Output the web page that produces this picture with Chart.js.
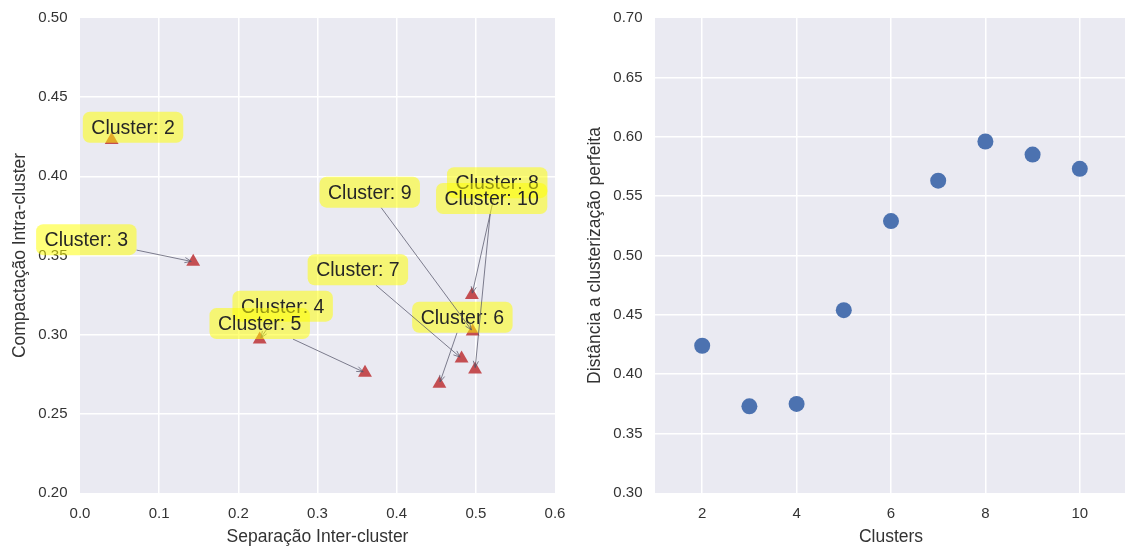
<!DOCTYPE html>
<html>
<head>
<meta charset="utf-8">
<script src="https://cdn.jsdelivr.net/npm/chart.js@4.4.1/dist/chart.umd.min.js"></script>
<style>
  html, body { margin: 0; padding: 0; background: #fff; overflow: hidden; width: 1125px; height: 551px; }
  #left  { position: absolute; left: 0;     top: 0; width: 569px; height: 551px; }
  #right { position: absolute; left: 565px; top: 0; width: 562px; height: 551px; }
</style>
</head>
<body>
<div id="left"><canvas id="compChart"></canvas></div>
<div id="right"><canvas id="distChart"></canvas></div>
<script>
// Number of clusters tried
const clusterIds = [2, 3, 4, 5, 6, 7, 8, 9, 10];

// Left panel: inter-cluster separation vs intra-cluster compactness
const separacao   = [0.040, 0.143, 0.227, 0.360, 0.454, 0.482, 0.495, 0.496, 0.499];
const compactacao = [0.423, 0.346, 0.297, 0.276, 0.269, 0.285, 0.325, 0.302, 0.278];

// Where each "Cluster: n" note sits, in data units (centre of the note)
const notaSep  = [0.067, 0.008, 0.256, 0.227, 0.483, 0.351, 0.527, 0.366, 0.520];
const notaComp = [0.431, 0.360, 0.318, 0.307, 0.311, 0.341, 0.396, 0.390, 0.386];

// Right panel: distance to a perfect clustering
const distPerfeita = [0.424, 0.373, 0.375, 0.454, 0.529, 0.563, 0.596, 0.585, 0.573];

// Tick labels
const sepTicks     = [0.0, 0.1, 0.2, 0.3, 0.4, 0.5, 0.6];
const compTicks    = [0.20, 0.25, 0.30, 0.35, 0.40, 0.45, 0.50];
const clusterTicks = [2, 4, 6, 8, 10];
const distTicks    = [0.30, 0.35, 0.40, 0.45, 0.50, 0.55, 0.60, 0.65, 0.70];

const FONT = '"Liberation Sans", Arial, Helvetica, sans-serif';
const TEXT = '#333333';
Chart.defaults.font.family = FONT;
Chart.defaults.color = TEXT;

// seaborn-style grey plotting area
const plotBg = {
  id: 'plotBg',
  beforeDraw(chart) {
    const { ctx, chartArea: a } = chart;
    ctx.save();
    ctx.fillStyle = '#EAEAF2';
    ctx.fillRect(a.left, a.top, a.right - a.left, a.bottom - a.top);
    ctx.restore();
  }
};

// Yellow annotation boxes with arrows pointing at each cluster marker
const clusterNotes = {
  id: 'clusterNotes',
  afterDraw(chart) {
    const { ctx, scales: { x, y } } = chart;
    ctx.save();
    ctx.font = '19.5px ' + FONT;
    ctx.textAlign = 'center';
    ctx.textBaseline = 'middle';
    clusterIds.forEach((id, i) => {
      const px = x.getPixelForValue(separacao[i]);
      const py = y.getPixelForValue(compactacao[i]);
      const cx = x.getPixelForValue(notaSep[i]);
      const cy = y.getPixelForValue(notaComp[i]);
      const text = 'Cluster: ' + id;
      const w = ctx.measureText(text).width + 17;
      const h = 31;
      const hw = w / 2, hh = h / 2;

      // arrow from the box edge to the marker
      const dx = px - cx, dy = py - cy;
      const t = Math.min(dx !== 0 ? hw / Math.abs(dx) : Infinity, dy !== 0 ? hh / Math.abs(dy) : Infinity);
      if (t < 1) {
        const sx = cx + dx * t, sy = cy + dy * t;
        const len = Math.hypot(px - sx, py - sy);
        const ux = (px - sx) / len, uy = (py - sy) / len;
        const ex = px - ux * 2, ey = py - uy * 2;
        ctx.strokeStyle = 'rgba(85,85,105,0.75)';
        ctx.lineWidth = 1;
        ctx.beginPath();
        ctx.moveTo(sx, sy);
        ctx.lineTo(ex, ey);
        const ah = 7, ang = 0.38;
        const a0 = Math.atan2(uy, ux);
        ctx.moveTo(ex - ah * Math.cos(a0 - ang), ey - ah * Math.sin(a0 - ang));
        ctx.lineTo(ex, ey);
        ctx.lineTo(ex - ah * Math.cos(a0 + ang), ey - ah * Math.sin(a0 + ang));
        ctx.stroke();
      }

      // rounded translucent box
      ctx.fillStyle = 'rgba(255,255,0,0.52)';
      ctx.beginPath();
      ctx.roundRect(cx - hw, cy - hh, w, h, 7);
      ctx.fill();

      ctx.fillStyle = '#262626';
      ctx.fillText(text, cx, cy + 1);
    });
    ctx.restore();
  }
};

function gridColor(bounds) {
  return c => (c.tick && (c.tick.value === bounds[0] || c.tick.value === bounds[1])) ? 'rgba(0,0,0,0)' : '#ffffff';
}

function axis(opts) {
  const { min, max, ticks, digits, title, horizontal, size, titlePad } = opts;
  return {
    type: 'linear',
    min, max,
    afterBuildTicks: s => { s.ticks = ticks.map(v => ({ value: v })); },
    afterFit: s => {
      if (horizontal) s.height = size; else s.width = size;
      // let edge labels overhang instead of shrinking the plot area
      s.paddingLeft = 0; s.paddingRight = 0; s.paddingTop = 0; s.paddingBottom = 0;
    },
    border: { display: false },
    grid: { color: gridColor([min, max]), lineWidth: 1.5, drawTicks: false },
    ticks: {
      padding: horizontal ? 11.5 : 12.5,
      color: TEXT,
      autoSkip: false,
      maxRotation: 0,
      font: { size: 15, family: FONT },
      callback: v => Number(v).toFixed(digits)
    },
    title: {
      display: true,
      text: title,
      color: TEXT,
      font: { size: 17.5, family: FONT },
      padding: titlePad
    }
  };
}

new Chart(document.getElementById('compChart'), {
  type: 'scatter',
  data: {
    datasets: [{
      data: separacao.map((v, i) => ({ x: v, y: compactacao[i] })),
      pointStyle: 'triangle',
      pointRadius: 8,
      pointHoverRadius: 8,
      backgroundColor: '#C44E52',
      borderWidth: 0
    }]
  },
  options: {
    responsive: true,
    maintainAspectRatio: false,
    animation: false,
    layout: { autoPadding: false, padding: { top: 18, right: 14, bottom: 0, left: 0 } },
    plugins: { legend: { display: false }, tooltip: { enabled: false } },
    scales: {
      x: axis({ min: 0, max: 0.6, ticks: sepTicks, digits: 1, title: 'Separação Inter-cluster',
                horizontal: true, size: 58, titlePad: { top: 0, bottom: 3.5 } }),
      y: axis({ min: 0.2, max: 0.5, ticks: compTicks, digits: 2, title: 'Compactação Intra-cluster',
                horizontal: false, size: 80, titlePad: { top: 9.5, bottom: 0 } })
    }
  },
  plugins: [plotBg, clusterNotes]
});

new Chart(document.getElementById('distChart'), {
  type: 'scatter',
  data: {
    datasets: [{
      data: clusterIds.map((c, i) => ({ x: c, y: distPerfeita[i] })),
      pointStyle: 'circle',
      pointRadius: 8,
      pointHoverRadius: 8,
      backgroundColor: '#4C72B0',
      borderWidth: 0
    }]
  },
  options: {
    responsive: true,
    maintainAspectRatio: false,
    animation: false,
    layout: { autoPadding: false, padding: { top: 18, right: 0, bottom: 0, left: 0 } },
    plugins: { legend: { display: false }, tooltip: { enabled: false } },
    scales: {
      x: axis({ min: 1, max: 11, ticks: clusterTicks, digits: 0, title: 'Clusters',
                horizontal: true, size: 58, titlePad: { top: 0, bottom: 3.5 } }),
      y: axis({ min: 0.3, max: 0.7, ticks: distTicks, digits: 2, title: 'Distância a clusterização perfeita',
                horizontal: false, size: 90, titlePad: { top: 19.5, bottom: 0 } })
    }
  },
  plugins: [plotBg]
});
</script>
</body>
</html>
